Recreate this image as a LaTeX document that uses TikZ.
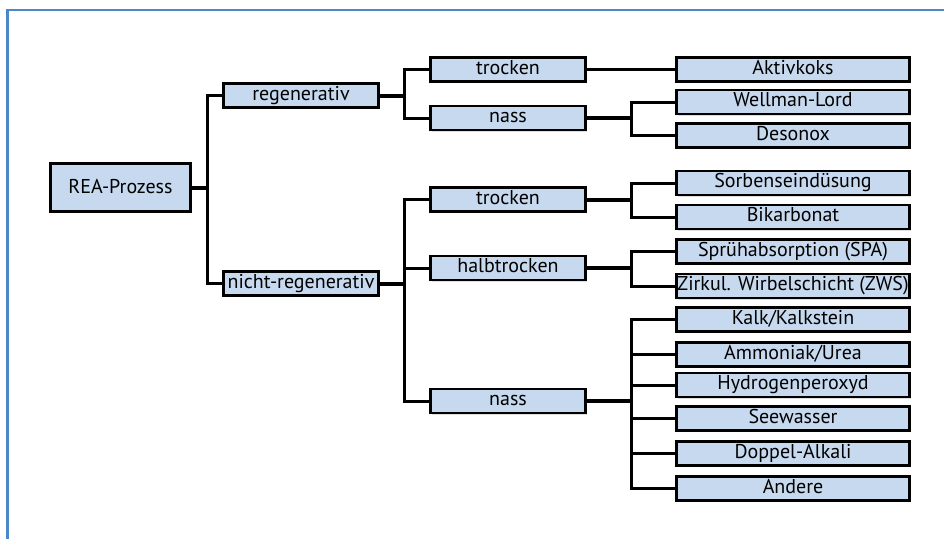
\documentclass[tikz,border=0pt]{standalone}
\usepackage{fontspec}
\setmainfont{PT Sans}
\usetikzlibrary{shadows}
\definecolor{boxfill}{RGB}{199,217,238}
\definecolor{framecol}{RGB}{74,136,200}
\tikzset{
  box/.style={draw=black, line width=2.6pt, fill=boxfill, inner sep=0pt,
    minimum height=24pt, font=\fontsize{20}{22}\selectfont,
    text height=14pt, text depth=4.5pt,
    drop shadow={opacity=0.25, shadow xshift=1.5pt, shadow yshift=-1.5pt}},
  lvone/.style={box, minimum width=155pt},
  lvtwo/.style={box, minimum width=155pt},
  leaf/.style={box, minimum width=233pt},
  conn/.style={draw=black, line width=3pt},
  stub/.style={draw=black, line width=4pt},
}
\begin{document}
\begin{tikzpicture}[x=1pt,y=-1pt]
\useasboundingbox (0,0) rectangle (944,538);
\fill[white] (0,0) rectangle (944,538);
\draw[framecol, line width=2.4pt] (7.5,540) -- (7.5,10) -- (946,10);

% nodes
\node[box, minimum width=140pt, minimum height=48pt, text depth=3pt] (rea) at (120.5,187.5) {REA-Prozess};
\node[lvone] (reg) at (301,95.5) {regenerativ};
\node[lvone] (nreg) at (301,283.5) {nicht-regenerativ};

\node[lvtwo] (rtr) at (508,69.5) {trocken};
\node[lvtwo] (rna) at (508,118) {nass};
\node[lvtwo] (ntr) at (508,199.5) {trocken};
\node[lvtwo] (nht) at (508,268) {halbtrocken};
\node[lvtwo] (nna) at (508,401) {nass};

\node[leaf] (akt) at (793,69.5) {Aktivkoks};
\node[leaf] (wel) at (793,102) {Wellman-Lord};
\node[leaf] (des) at (793,135.5) {Desonox};
\node[leaf] (sor) at (793,183) {Sorbenseindüsung};
\node[leaf] (bik) at (793,217) {Bikarbonat};
\node[leaf] (spr) at (793,251.5) {Sprühabsorption (SPA)};
\node[leaf] (zir) at (793,286) {Zirkul. Wirbelschicht (ZWS)};
\node[leaf] (kal) at (793,319.5) {Kalk/Kalkstein};
\node[leaf] (amm) at (793,354.5) {Ammoniak/Urea};
\node[leaf] (hyd) at (793,385) {Hydrogenperoxyd};
\node[leaf] (see) at (793,418.5) {Seewasser};
\node[leaf] (dop) at (793,453.5) {Doppel-Alkali};
\node[leaf] (and) at (793,488.5) {Andere};

% junction columns
\coordinate (ja) at (207,0);
\coordinate (jb) at (404,0);
\coordinate (jc) at (631,0);

% level 1
\draw[stub] (rea.east) -- (rea.east -| ja);
\draw[conn] (reg.west) -- (reg.west -| ja) -- (nreg.west -| ja) -- (nreg.west);

% regenerativ
\draw[stub] (reg.east) -- (reg.east -| jb);
\draw[conn] (rtr.west) -- (rtr.west -| jb) -- (rna.west -| jb) -- (rna.west);
\draw[conn] (rtr.east) -- (akt.west);
\draw[stub] (rna.east) -- (rna.east -| jc);
\draw[conn] (wel.west) -- (wel.west -| jc) -- (des.west -| jc) -- (des.west);

% nicht-regenerativ
\draw[stub] (nreg.east) -- (nreg.east -| jb);
\draw[conn] (ntr.west) -- (ntr.west -| jb) -- (nna.west -| jb) -- (nna.west);
\draw[conn] (nht.west) -- (nht.west -| jb);

\draw[stub] (ntr.east) -- (ntr.east -| jc);
\draw[conn] (sor.west) -- (sor.west -| jc) -- (bik.west -| jc) -- (bik.west);

\draw[stub] (nht.east) -- (nht.east -| jc);
\draw[conn] (spr.west) -- (spr.west -| jc) -- (zir.west -| jc) -- (zir.west);

\draw[stub] (nna.east) -- (nna.east -| jc);
\draw[conn] (kal.west) -- (kal.west -| jc) -- (and.west -| jc) -- (and.west);
\draw[conn] (amm.west) -- (amm.west -| jc);
\draw[conn] (hyd.west) -- (hyd.west -| jc);
\draw[conn] (see.west) -- (see.west -| jc);
\draw[conn] (dop.west) -- (dop.west -| jc);
\end{tikzpicture}
\end{document}
